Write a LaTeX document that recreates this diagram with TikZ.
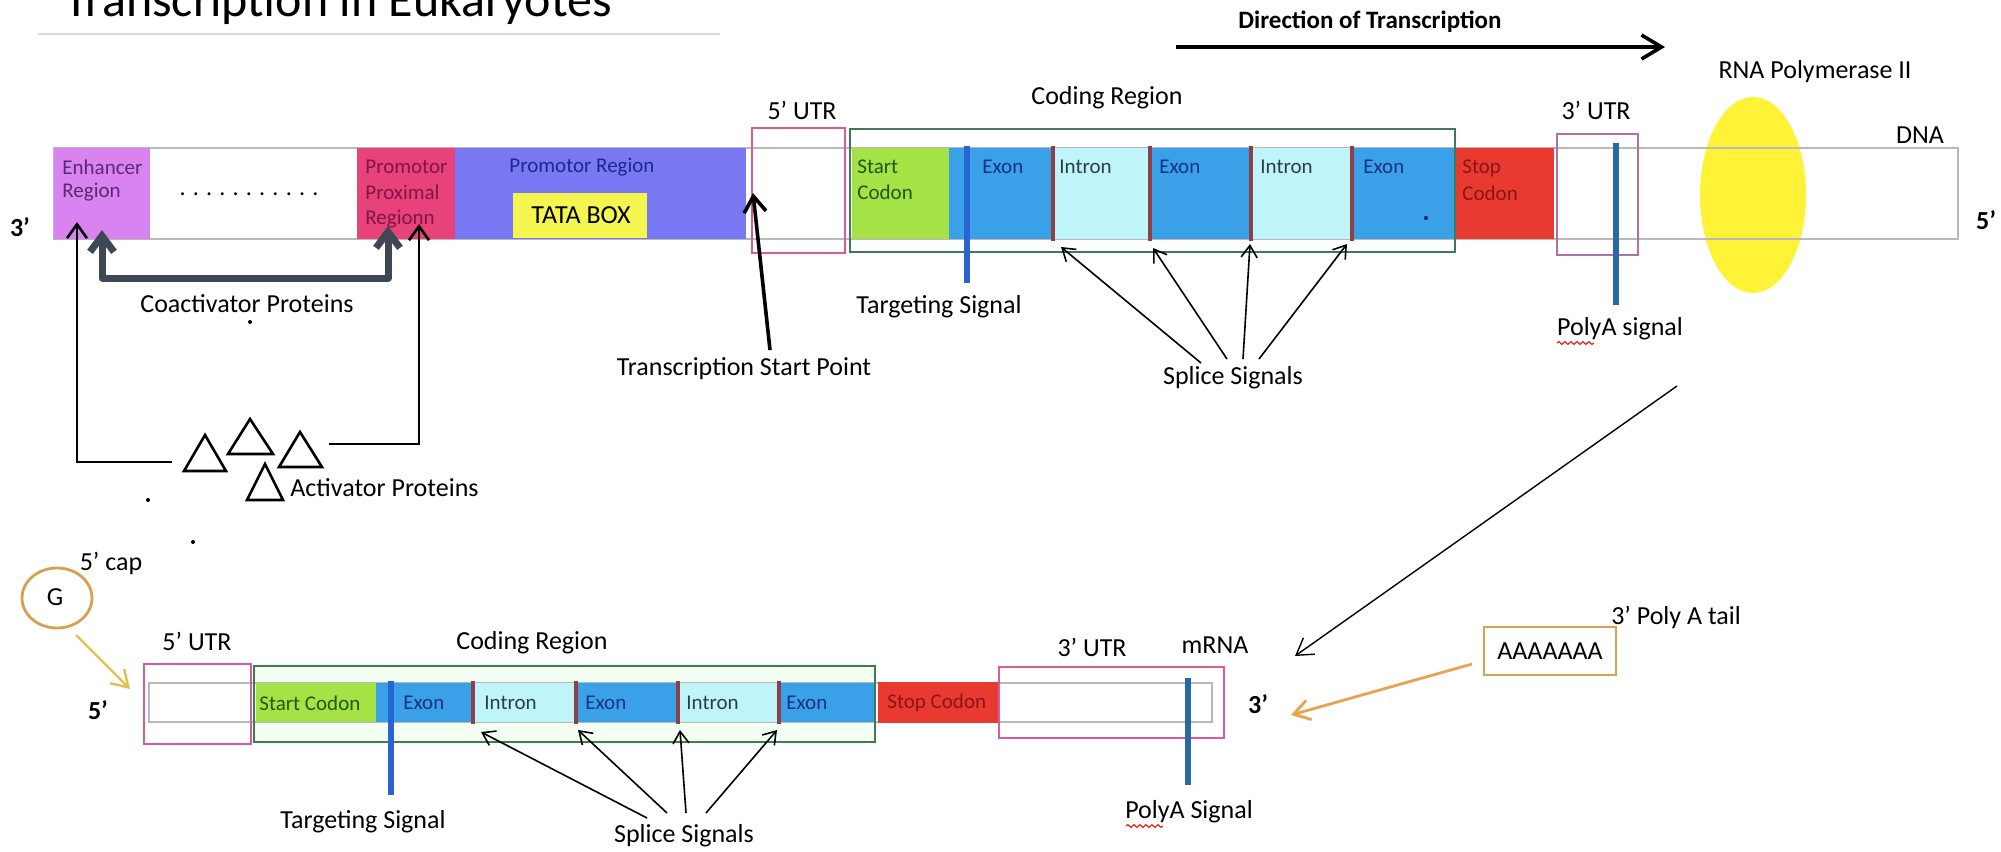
\documentclass[tikz,border=0pt]{standalone}
\usepackage{fontspec}
\setmainfont{Carlito}
\usetikzlibrary{arrows.meta,decorations.pathmorphing}
\definecolor{enh}{RGB}{216,131,240}
\definecolor{ppr}{RGB}{232,66,122}
\definecolor{prom}{RGB}{120,120,242}
\definecolor{tata}{RGB}{245,245,80}
\definecolor{utr}{RGB}{216,92,156}
\definecolor{utrb}{RGB}{176,112,168}
\definecolor{cod}{RGB}{62,122,85}
\definecolor{startc}{RGB}{165,226,69}
\definecolor{exon}{RGB}{58,160,232}
\definecolor{intron}{RGB}{191,245,248}
\definecolor{splice}{RGB}{140,64,72}
\definecolor{stopc}{RGB}{232,58,48}
\definecolor{targ}{RGB}{40,100,210}
\definecolor{polya}{RGB}{40,105,165}
\definecolor{pol}{RGB}{255,242,55}
\definecolor{coact}{RGB}{62,72,84}
\definecolor{tanc}{RGB}{216,160,80}
\definecolor{orarr}{RGB}{232,165,80}
\definecolor{caparr}{RGB}{228,190,80}
\definecolor{tenh}{RGB}{90,40,120}
\definecolor{tppr}{RGB}{130,20,70}
\definecolor{tprom}{RGB}{30,40,140}
\definecolor{texon}{RGB}{20,50,130}
\definecolor{tintr}{RGB}{40,60,80}
\definecolor{tstart}{RGB}{30,90,20}
\definecolor{tstop}{RGB}{140,20,20}
\begin{document}
\begin{tikzpicture}[x=0.5pt,y=-0.5pt,
  lbl/.style={font=\fontsize{13}{15}\selectfont, inner sep=0pt},
  boldlbl/.style={font=\fontsize{13}{15}\selectfont\bfseries, inner sep=0pt},
  inbar/.style={font=\fontsize{10.5}{12}\selectfont, inner sep=0pt, anchor=west},
  frame/.style={line width=1.3pt},
  splicel/.style={splice, line width=1.6pt},
  sig/.style={line width=2.6pt},
  thinarr/.style={black, line width=0.8pt, -{Straight Barb[length=6pt,width=8pt]}},
  actarr/.style={black, line width=1.3pt, -{Straight Barb[length=7pt,width=10pt]}},
  tri/.style={draw=black, line width=1.3pt, line join=miter, fill=white},
  squig/.style={red, line width=0.5pt, decorate, decoration={snake, amplitude=0.7pt, segment length=3pt}},
]
\useasboundingbox (0,0) rectangle (2001,851);
\fill[white] (0,0) rectangle (2001,851);

% title
\node[font=\fontsize{25}{29}\selectfont, inner sep=0pt, anchor=base west] (title) at (64,17) {Transcription in Eukaryotes};
\draw[gray!30, line width=0.8pt] (38,34) -- (720,34);

% direction of transcription
\node[font=\fontsize{12.5}{15}\selectfont\bfseries, inner sep=0pt] (dir) at (1370,22) {Direction of Transcription};
\coordinate (d1) at (1176,47);
\coordinate (d2) at (1665,47);
\draw[line width=1.8pt, -{Straight Barb[length=10pt,width=12pt]}] (d1) -- (d2);

% RNA polymerase II
\fill[pol] (1753,195) ellipse [x radius=26.5pt, y radius=49pt];
\node[lbl] (rnap) at (1815,72) {RNA Polymerase II};
\node[lbl] (dna) at (1920,135) {DNA};

% upper DNA bar
\draw[gray!55, line width=0.6pt] (54,148) rectangle (1958,239);
\fill[enh] (54,148) rectangle (150,239);
\fill[ppr] (357,148) rectangle (455,239);
\fill[prom] (455,148) rectangle (746,239);
\fill[tata] (513,193) rectangle (647,238);
\fill[startc] (852,148) rectangle (949,239);
\fill[exon] (949,148) rectangle (1053,239);
\fill[intron] (1053,148) rectangle (1150,239);
\fill[exon] (1150,148) rectangle (1251,239);
\fill[intron] (1251,148) rectangle (1352,239);
\fill[exon] (1352,148) rectangle (1455,239);
\fill[stopc] (1455,148) rectangle (1554,239);

\node[boldlbl] (u3) at (20,227) {3'};
\node[boldlbl] (u5) at (1986,220) {5'};

\node[inbar, text=tenh] (enh1) at (62,167) {Enhancer};
\node[inbar, text=tenh] (enh2) at (62,192) {Region};
\node[font=\fontsize{12}{14}\selectfont, inner sep=0pt] (dots) at (249,194) {. . . . . . . . . . .};
\node[inbar, text=tppr] (ppr1) at (365,167) {Promotor};
\node[inbar, text=tppr] (ppr2) at (365,192) {Proximal};
\node[inbar, text=tppr] (ppr3) at (365,219) {Regionn};
\node[font=\fontsize{10.5}{12}\selectfont, inner sep=0pt, text=tprom] (prom) at (582,167) {Promotor Region};
\node[font=\fontsize{13}{15}\selectfont, inner sep=0pt] (tata) at (581,215) {TATA BOX};
\node[inbar, text=tstart] (sc1) at (857,167) {Start};
\node[inbar, text=tstart] (sc2) at (857,192) {Codon};
\node[inbar, text=texon] (e1) at (982,167) {Exon};
\node[inbar, text=tintr] (i1) at (1059,167) {Intron};
\node[inbar, text=texon] (e2) at (1159,167) {Exon};
\node[inbar, text=tintr] (i2) at (1260,167) {Intron};
\node[inbar, text=texon] (e3) at (1363,167) {Exon};
\node[inbar, text=tstop] (stc1) at (1462,168) {Stop};
\node[inbar, text=tstop] (stc2) at (1462,193) {Codon};
\fill[texon] (1426,218) circle (1.1pt);

\draw[utr, frame] (752,128) rectangle (845,253);
\draw[cod, frame] (850,129) rectangle (1455,252);
\draw[utrb, frame] (1557,134) rectangle (1638,255);

\foreach \x/\n in {1053/s1,1150/s2,1251/s3,1352/s4}{
  \draw[splicel] (\x,146) -- (\x,241);
  \coordinate (\n) at (\x,244);
}
\draw[targ, sig] (967,146) -- (967,283);
\draw[polya, sig] (1616,143) -- (1616,305);

\node[lbl] (utr5) at (802,110) {5' UTR};
\node[lbl] (codr) at (1107,98) {Coding Region};
\node[lbl] (utr3) at (1596,110) {3' UTR};
\node[lbl] (ts) at (939,307) {Targeting Signal};
\node[lbl] (pas) at (1620,329) {PolyA signal};
\draw[squig] (1557,343) -- (1594,343);
\node[lbl] (ss) at (1233,378) {Splice Signals};
\coordinate (ss1) at (1201,363);
\coordinate (ss2) at (1227,359);
\coordinate (ss3) at (1243,359);
\coordinate (ss4) at (1259,359);
\draw[thinarr] (ss1) -- (1061,247);
\draw[thinarr] (ss2) -- (1153,248);
\draw[thinarr] (ss3) -- (1250,244);
\draw[thinarr] (ss4) -- (1347,244);

% transcription start point
\node[lbl] (tsp) at (744,369) {Transcription Start Point};
\coordinate (tsp0) at (770,350);
\coordinate (tsp1) at (753,193);
\draw[line width=1.8pt, -{Straight Barb[length=8pt,width=11pt]}] (tsp0) -- (tsp1);

% coactivator proteins
\coordinate (ca1) at (102,230);
\coordinate (ca2) at (388,226);
\draw[coact, line width=3.5pt, line join=round, {Straight Barb[length=8pt,width=12pt]}-{Straight Barb[length=8pt,width=12pt]}] (ca1) -- (102,278) -- (388,278) -- (ca2);
\node[lbl] (coact) at (247,304) {Coactivator Proteins};
\fill (250,322) circle (1pt);

% activator proteins
\draw[tri] (184,471) -- (205,435) -- (226,471) -- cycle;
\draw[tri] (228,454) -- (250,419) -- (273,454) -- cycle;
\draw[tri] (279,467) -- (300,432) -- (322,467) -- cycle;
\draw[tri] (247,500) -- (265,464) -- (283,500) -- cycle;
\node[lbl, anchor=west] (act) at (290,488) {Activator Proteins};
\coordinate (a1) at (77,222);
\coordinate (a2) at (419,224);
\draw[actarr] (172,462) -- (77,462) -- (a1);
\draw[actarr] (329,444) -- (419,444) -- (a2);
\fill (148,500) circle (1pt);
\fill (193,542) circle (1pt);

% transcription to mRNA
\coordinate (dg0) at (1677,386);
\coordinate (dg1) at (1295,656);
\draw[black, line width=0.7pt, -{Straight Barb[length=8pt,width=10pt]}] (dg0) -- (dg1);

% lower mRNA
\node[lbl] (cap) at (111,563) {5' cap};
\draw[tanc, line width=1.4pt] (57,598) ellipse [x radius=17.5pt, y radius=15pt];
\node[lbl] (g) at (55,597) {G};
\coordinate (cp0) at (76,635);
\coordinate (cp1) at (130,689);
\draw[caparr, line width=1.2pt, -{Straight Barb[length=8pt,width=10pt]}] (cp0) -- (cp1);

\fill[green!5!white] (254,666) rectangle (875,742);
\draw[gray!55, line width=0.6pt] (149,683) rectangle (1212,722);
\fill[startc] (256,683) rectangle (376,722);
\fill[exon] (376,683) rectangle (473,722);
\fill[intron] (473,683) rectangle (576,722);
\fill[exon] (576,683) rectangle (678,722);
\fill[intron] (678,683) rectangle (779,722);
\fill[exon] (779,683) rectangle (875,722);
\fill[stopc] (878,682) rectangle (999,723);
\draw[utr, frame] (144,664) rectangle (251,744);
\draw[cod, frame] (254,666) rectangle (875,742);
\draw[utr, frame] (999,667) rectangle (1224,738);

\node[inbar, text=tstart] (lsc) at (259,703) {Start Codon};
\node[inbar, text=texon] (le1) at (403,703) {Exon};
\node[inbar, text=tintr] (li1) at (484,703) {Intron};
\node[inbar, text=texon] (le2) at (585,703) {Exon};
\node[inbar, text=tintr] (li2) at (686,703) {Intron};
\node[inbar, text=texon] (le3) at (786,703) {Exon};
\node[inbar, text=tstop] (lstc) at (887,703) {Stop Codon};

\foreach \x/\n in {473/t1,576/t2,678/t3,779/t4}{
  \draw[splicel] (\x,681) -- (\x,724);
  \coordinate (\n) at (\x,727);
}
\draw[targ, sig] (391,681) -- (391,795);
\draw[polya, sig] (1188,678) -- (1188,785);

\node[boldlbl] (l5) at (98,710) {5'};
\node[boldlbl] (l3) at (1258,704) {3'};
\node[lbl] (lutr5) at (197,641) {5' UTR};
\node[lbl] (lcod) at (532,643) {Coding Region};
\node[lbl] (lutr3) at (1092,647) {3' UTR};
\node[lbl] (mrna) at (1215,645) {mRNA};
\node[lbl] (lts) at (363,822) {Targeting Signal};
\node[lbl] (lss) at (684,836) {Splice Signals};
\node[lbl] (lpas) at (1189,812) {PolyA Signal};
\draw[squig] (1126,826) -- (1163,826);
\coordinate (ls1) at (647,818);
\coordinate (ls2) at (667,813);
\coordinate (ls3) at (686,813);
\coordinate (ls4) at (706,813);
\draw[thinarr] (ls1) -- (481,732);
\draw[thinarr] (ls2) -- (578,730);
\draw[thinarr] (ls3) -- (680,730);
\draw[thinarr] (ls4) -- (777,730);

% poly A tail
\node[lbl] (pat) at (1676,617) {3' Poly A tail};
\node[draw=tanc, line width=1.4pt, font=\fontsize{13}{15}\selectfont, minimum width=66pt, minimum height=24pt, inner sep=1pt] (aaa) at (1550,651) {AAAAAAA};
\coordinate (pa1) at (1291,715);
\draw[orarr, line width=1.4pt, -{Straight Barb[length=8pt,width=10pt]}] (1472,664) -- (pa1);
\end{tikzpicture}
\end{document}
